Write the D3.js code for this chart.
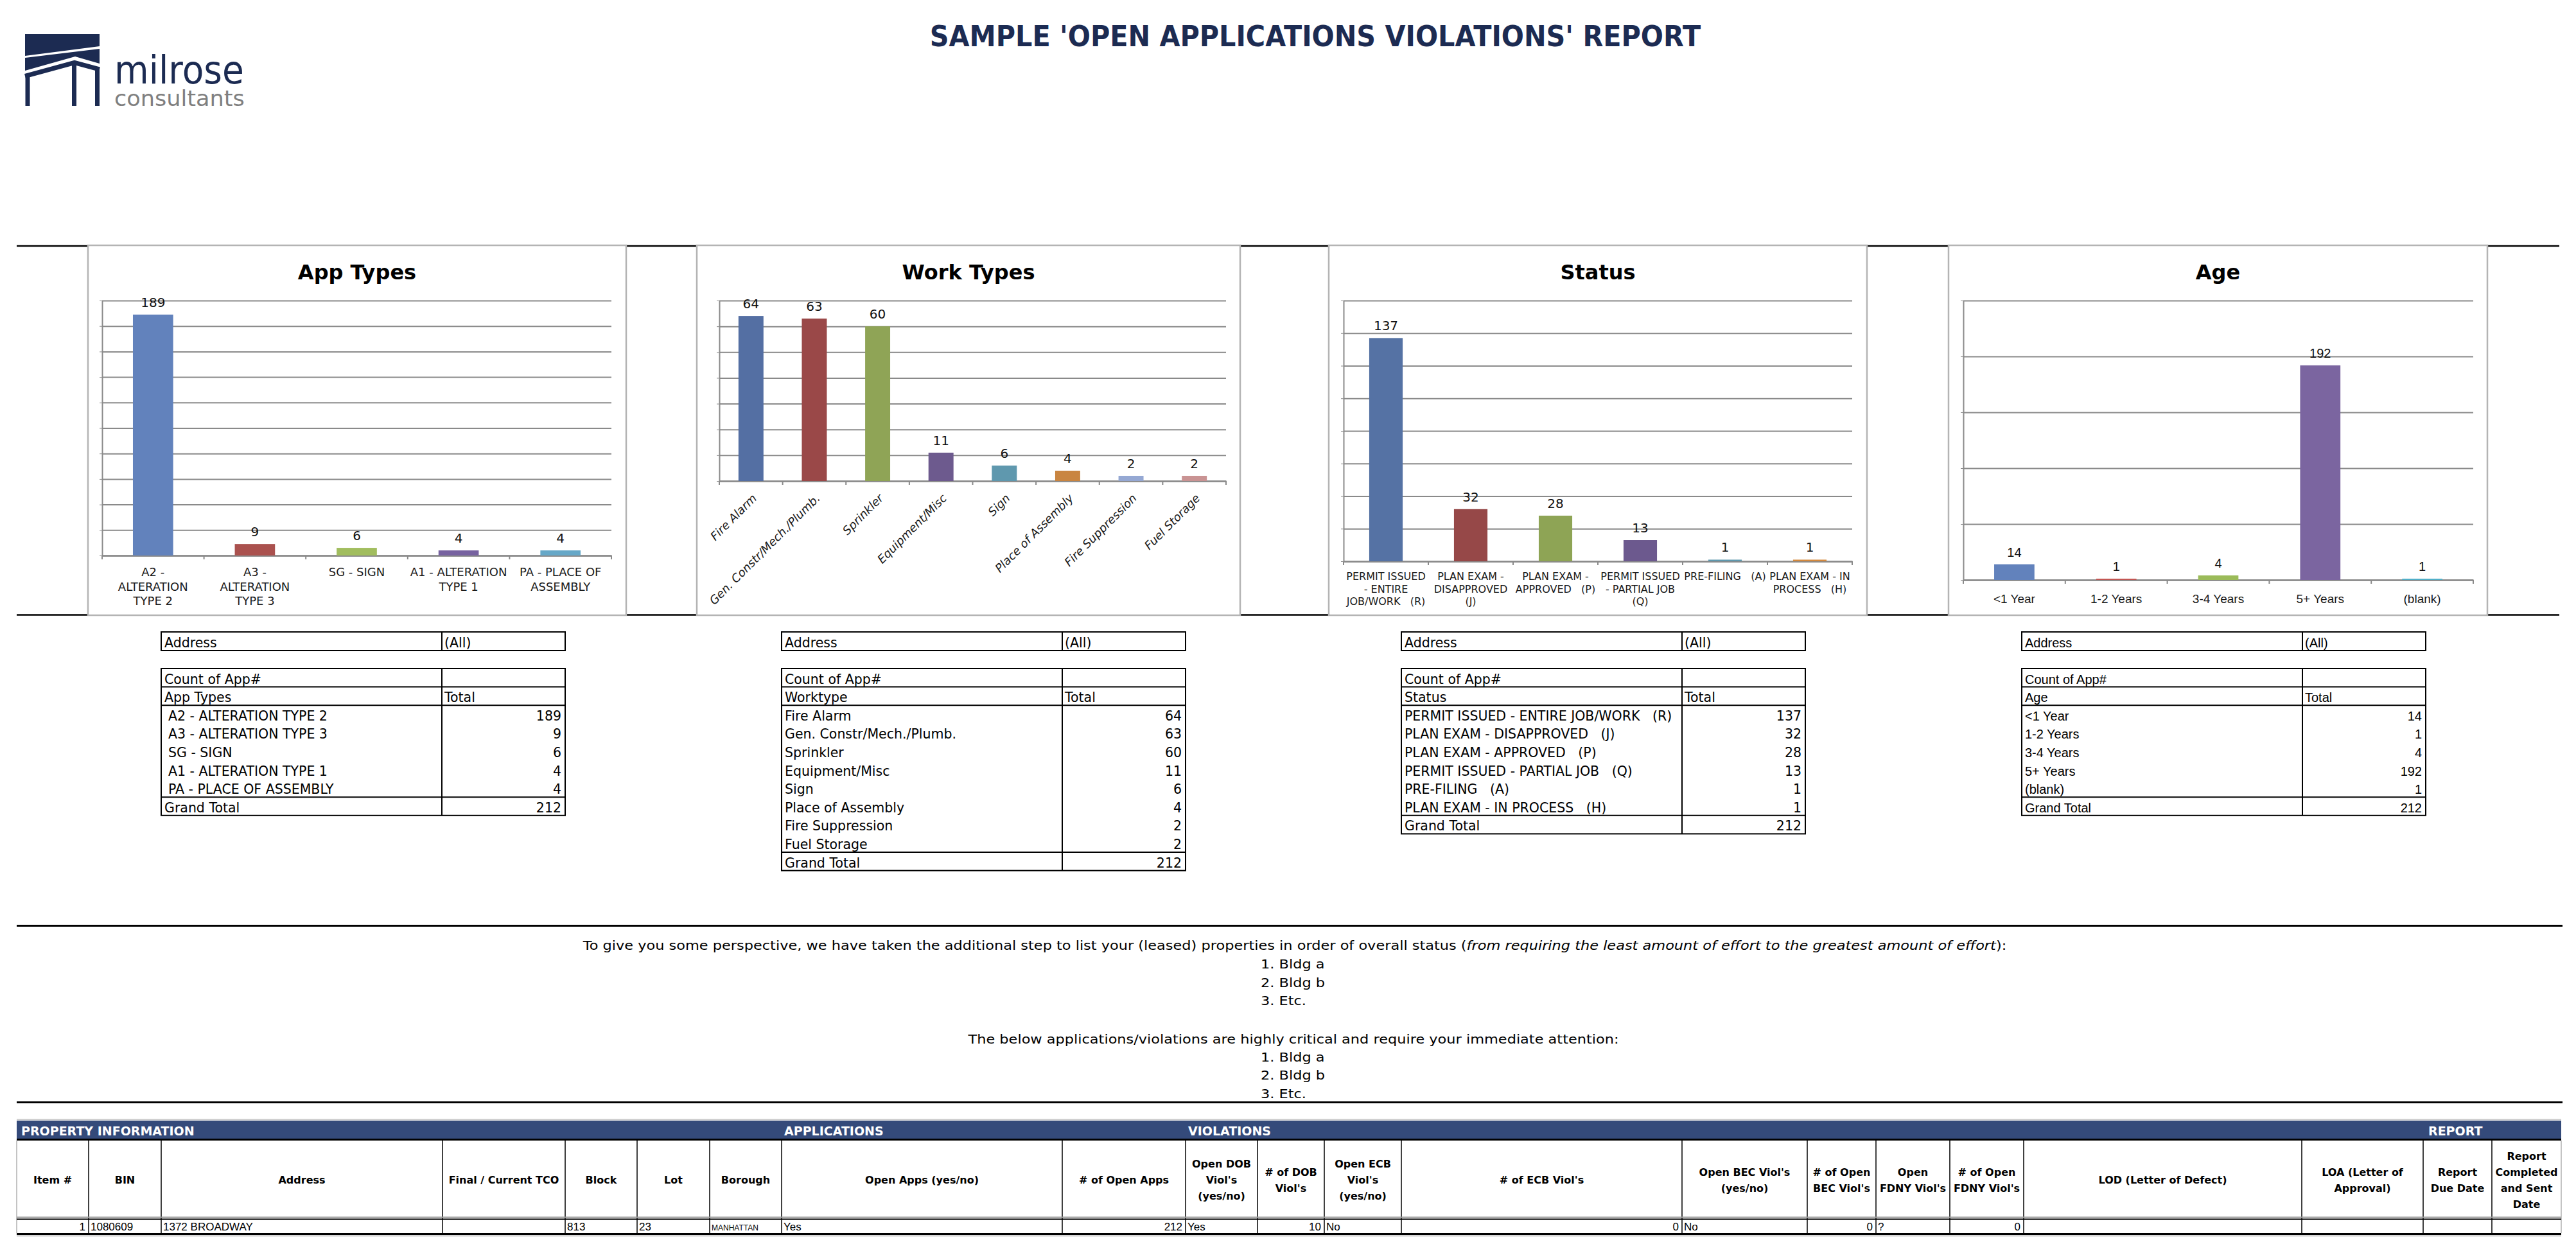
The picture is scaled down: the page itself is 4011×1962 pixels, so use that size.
<!DOCTYPE html>
<html><head><meta charset="utf-8">
<script src="https://cdn.jsdelivr.net/npm/d3@7"></script>
<style>
html,body{margin:0;padding:0;background:#fff;}
svg text{white-space:pre;}
</style></head><body>
<svg id="c" width="4011" height="1962"></svg>
<script>
// ================= DATA =================
const reportTitle = "SAMPLE 'OPEN APPLICATIONS VIOLATIONS' REPORT";

const appTypes = ["A2 - ALTERATION TYPE 2","A3 - ALTERATION TYPE 3","SG - SIGN","A1 - ALTERATION TYPE 1","PA - PLACE OF ASSEMBLY"];
const appCounts = [189, 9, 6, 4, 4];
const appAxisLabels = [["A2 -","ALTERATION","TYPE 2"],["A3 -","ALTERATION","TYPE 3"],["SG - SIGN"],["A1 - ALTERATION","TYPE 1"],["PA - PLACE OF","ASSEMBLY"]];
const appTicks = [0,20,40,60,80,100,120,140,160,180,200];

const workTypes = ["Fire Alarm","Gen. Constr/Mech./Plumb.","Sprinkler","Equipment/Misc","Sign","Place of Assembly","Fire Suppression","Fuel Storage"];
const workCounts = [64, 63, 60, 11, 6, 4, 2, 2];
const workTicks = [0,10,20,30,40,50,60,70];

const statusTypes = ["PERMIT ISSUED - ENTIRE JOB/WORK   (R)","PLAN EXAM - DISAPPROVED   (J)","PLAN EXAM - APPROVED   (P)","PERMIT ISSUED - PARTIAL JOB   (Q)","PRE-FILING   (A)","PLAN EXAM - IN PROCESS   (H)"];
const statusCounts = [137, 32, 28, 13, 1, 1];
const statusAxisLabels = [["PERMIT ISSUED","- ENTIRE","JOB/WORK   (R)"],["PLAN EXAM -","DISAPPROVED","(J)"],["PLAN EXAM -","APPROVED   (P)"],["PERMIT ISSUED","- PARTIAL JOB","(Q)"],["PRE-FILING   (A)"],["PLAN EXAM - IN","PROCESS   (H)"]];
const statusTicks = [0,20,40,60,80,100,120,140,160];

const ageGroups = ["<1 Year","1-2 Years","3-4 Years","5+ Years","(blank)"];
const ageCounts = [14, 1, 4, 192, 1];
const ageTicks = [0,50,100,150,200,250];

const para1 = ["To give you some perspective, we have taken the additional step to list your (leased) properties in order of overall status (",
               "from requiring the least amount of effort to the greatest amount of effort", "):"];
const para1List = ["1. Bldg a","2. Bldg b","3. Etc."];
const para2 = "The below applications/violations are highly critical and require your immediate attention:";
const para2List = ["1. Bldg a","2. Bldg b","3. Etc."];

const bandLabels = ["PROPERTY INFORMATION","APPLICATIONS","VIOLATIONS","REPORT"];
const tableHeaders = [["Item #"],["BIN"],["Address"],["Final / Current TCO"],["Block"],["Lot"],["Borough"],
  ["Open Apps (yes/no)"],["# of Open Apps"],["Open DOB","Viol's","(yes/no)"],["# of DOB","Viol's"],
  ["Open ECB","Viol's","(yes/no)"],["# of ECB Viol's"],["Open BEC Viol's","(yes/no)"],["# of Open","BEC Viol's"],
  ["Open","FDNY Viol's"],["# of Open","FDNY Viol's"],["LOD (Letter of Defect)"],["LOA (Letter of","Approval)"],
  ["Report","Due Date"],["Report","Completed","and Sent","Date"]];
const firstRow = ["1","1080609","1372 BROADWAY","","813","23","MANHATTAN","Yes","212","Yes","10","No","0","No","0","?","0","","","",""];

// ================= STYLE / LAYOUT =================
const NAVY = "#1c2b52";
const SANS = "'DejaVu Sans', 'Noto Sans', sans-serif";
const ARIAL = "'Liberation Sans', Arial, sans-serif";
const GRID = "#8a8a8a";
const svg = d3.select("#c");
svg.append("rect").attr("width",4011).attr("height",1962).attr("fill","#fff");

function stretchTo(sel, x, y, target) {
  const w = sel.node().getComputedTextLength();
  const s = target / w;
  sel.attr("x",0).attr("y",0).attr("transform",`translate(${x},${y}) scale(${s},1)`);
  return s;
}

// ---- logo ----
const logo = svg.append("g").attr("fill",NAVY);
logo.append("polygon").attr("points","39,53 155,53 155,72 39,87");
logo.append("polygon").attr("points","39,90 155,76 155,99 117,88 39,110");
logo.append("polyline").attr("points","39,118.5 116,97.5 155,108").attr("fill","none")
  .attr("stroke",NAVY).attr("stroke-width",7);
[[43,117],[115.5,98],[151.5,106]].forEach(([lx,ly]) =>
  logo.append("line").attr("x1",lx).attr("x2",lx).attr("y1",ly).attr("y2",165).attr("stroke",NAVY).attr("stroke-width",7));
const t1 = svg.append("text").attr("font-family",SANS).attr("font-size",60).attr("fill",NAVY).text("milrose");
stretchTo(t1, 178, 130, 202);
const t2 = svg.append("text").attr("font-family",SANS).attr("font-size",33).attr("fill","#7f7f7f").text("consultants");
stretchTo(t2, 178, 165, 203);

// ---- title ----
const title = svg.append("text").attr("font-family",SANS).attr("font-weight","bold").attr("font-size",44)
  .attr("fill",NAVY).attr("text-anchor","middle").text(reportTitle);
stretchTo(title, 2048, 72, 1201);

// ---- section lines ----
function hline(y, x0, x1, w, col) {
  svg.append("line").attr("x1",x0).attr("x2",x1).attr("y1",y).attr("y2",y).attr("stroke",col||"#000").attr("stroke-width",w);
}
hline(383, 26, 3985, 2.5);
hline(957.5, 26, 3985, 2.5);

// ---- charts ----
const charts = [
  {title:"App Types", cats:appTypes, values:appCounts, ticks:appTicks, labels:appAxisLabels,
   box:[137,975], l:159, r:952, t:468, b:865, font:SANS, fs:18, labDy:32, lineH:22.5,
   colors:["#6282bc","#aa514e","#a1bd5e","#7762a0","#66a8c8"]},
  {title:"Work Types", cats:workTypes, values:workCounts, ticks:workTicks, rotate:true,
   box:[1085,1931], l:1120, r:1909, t:468, b:749, font:SANS, fs:18,
   colors:["#546fa3","#9a4848","#8fa456","#6d5a8e","#5f98ae","#c98541","#95a8d3","#c99393"]},
  {title:"Status", cats:statusTypes, values:statusCounts, ticks:statusTicks, labels:statusAxisLabels,
   box:[2069,2907], l:2092, r:2884, t:468, b:874, font:SANS, fs:16, labDy:29, lineH:19.5,
   colors:["#5572a4","#964848","#8ea455","#6c598e","#5f98ae","#d4893e"]},
  {title:"Age", cats:ageGroups, values:ageCounts, ticks:ageTicks, labels:ageGroups.map(d=>[d]),
   box:[3034,3873], l:3057, r:3851, t:468, b:903, font:ARIAL, fs:19, labDy:36, lineH:22,
   colors:["#6282bc","#c0504d","#9bbb59","#7b65a0","#4bacc6"]}
];

charts.forEach(c => {
  const g = svg.append("g");
  g.append("rect").attr("x",c.box[0]).attr("y",382).attr("width",c.box[1]-c.box[0]).attr("height",576)
    .attr("fill","#fff").attr("stroke","#b4b4b4").attr("stroke-width",2.5);
  g.append("text").attr("x",(c.box[0]+c.box[1])/2).attr("y",435).attr("text-anchor","middle")
    .attr("font-family",SANS).attr("font-weight","bold").attr("font-size",32).attr("fill","#000").text(c.title);

  const slot = d3.scaleBand().domain(c.cats).range([c.l,c.r]);
  const x = d3.scaleBand().domain(c.cats).range([c.l,c.r]).paddingInner(0.605).paddingOuter(0.3025);
  const y = d3.scaleLinear().domain([0, d3.max(c.ticks)]).range([c.b, c.t]);

  const grid = g.append("g").attr("transform",`translate(${c.l},0)`)
    .call(d3.axisLeft(y).tickValues(c.ticks).tickSize(-(c.r-c.l)).tickFormat(""));
  grid.select(".domain").remove();
  grid.selectAll(".tick line").attr("stroke",GRID).attr("stroke-width",2);

  const yax = g.append("g").attr("transform",`translate(${c.l},0)`)
    .call(d3.axisLeft(y).tickValues(c.ticks).tickSize(4).tickSizeOuter(0).tickFormat(""));
  yax.select(".domain").attr("stroke",GRID).attr("stroke-width",2);
  yax.selectAll(".tick line").attr("stroke",GRID).attr("stroke-width",1);

  const xax = g.append("g").attr("transform",`translate(0,${c.b})`)
    .call(d3.axisBottom(slot).tickSize(0).tickSizeOuter(0).tickFormat(""));
  xax.select(".domain").attr("stroke",GRID).attr("stroke-width",2.5);
  const bounds = c.cats.map(d => slot(d)).concat([c.r]);
  g.selectAll(null).data(bounds).join("line")
    .attr("x1",d=>d).attr("x2",d=>d).attr("y1",c.b).attr("y2",c.b+6)
    .attr("stroke",GRID).attr("stroke-width",2);

  const rows = c.cats.map((d,i)=>({cat:d, v:c.values[i], col:c.colors[i], lab:c.labels ? c.labels[i] : [d]}));
  g.selectAll(null).data(rows).join("rect")
    .attr("x",d=>x(d.cat)).attr("y",d=>y(d.v)).attr("width",x.bandwidth())
    .attr("height",d=>c.b - y(d.v)).attr("fill",d=>d.col);
  g.selectAll(null).data(rows).join("text")
    .attr("x",d=>x(d.cat)+x.bandwidth()/2).attr("y",d=>y(d.v)-12)
    .attr("text-anchor","middle").attr("font-family",c.font).attr("font-size",20).attr("fill","#111")
    .text(d=>d.v);

  if (c.rotate) {
    g.selectAll(null).data(rows).join("text")
      .attr("transform",d=>`translate(${slot(d.cat)+slot.bandwidth()/2+10},${c.b+28}) rotate(-45)`)
      .attr("text-anchor","end").attr("font-family",c.font).attr("font-style","italic")
      .attr("font-size",c.fs).attr("fill","#1a1a1a").text(d=>d.cat);
  } else {
    const lt = g.selectAll(null).data(rows).join("text")
      .attr("text-anchor","middle").attr("font-family",c.font).attr("font-size",c.fs).attr("fill","#1a1a1a")
      .attr("y",c.b+c.labDy);
    lt.selectAll("tspan").data(d=>d.lab.map(s=>({s, cx:slot(d.cat)+slot.bandwidth()/2}))).join("tspan")
      .attr("x",d=>d.cx).attr("dy",(d,i)=>i===0?0:c.lineH).text(d=>d.s);
  }
});

// ---- pivot tables ----
const tables = [
  {head:"App Types", cats:appTypes, values:appCounts, x0:251, xd:688, x1:880, font:SANS, fs:20.5, indent:6},
  {head:"Worktype", cats:workTypes, values:workCounts, x0:1217, xd:1654, x1:1846, font:SANS, fs:20.5, indent:0},
  {head:"Status", cats:statusTypes, values:statusCounts, x0:2182, xd:2619, x1:2811, font:SANS, fs:20.5, indent:0},
  {head:"Age", cats:ageGroups, values:ageCounts, x0:3148, xd:3585, x1:3777, font:ARIAL, fs:20, indent:0}
];
tables.forEach(t => {
  const g = svg.append("g").attr("font-family",t.font).attr("font-size",t.fs).attr("fill","#000");
  const line = (x1,y1,x2,y2,w) => g.append("line").attr("x1",x1).attr("y1",y1).attr("x2",x2).attr("y2",y2)
      .attr("stroke","#000").attr("stroke-width",w||2);
  g.append("rect").attr("x",t.x0).attr("y",984).attr("width",t.x1-t.x0).attr("height",29)
    .attr("fill","none").attr("stroke","#000").attr("stroke-width",2);
  line(t.xd,984,t.xd,1013);
  g.append("text").attr("x",t.x0+5).attr("y",1008).text("Address");
  g.append("text").attr("x",t.xd+4).attr("y",1008).text("(All)");

  const top = 1041, rh = 28.6, n = t.cats.length;
  const bottom = top + rh*(n+3);
  g.append("rect").attr("x",t.x0).attr("y",top).attr("width",t.x1-t.x0).attr("height",bottom-top)
    .attr("fill","none").attr("stroke","#000").attr("stroke-width",2);
  line(t.xd,top,t.xd,bottom);
  line(t.x0,top+rh,t.x1,top+rh);
  line(t.x0,top+2*rh,t.x1,top+2*rh);
  line(t.x0,top+rh*(n+2),t.x1,top+rh*(n+2));
  const base = i => top + rh*(i+1) - 5;
  g.append("text").attr("x",t.x0+5).attr("y",base(0)).text("Count of App#");
  g.append("text").attr("x",t.x0+5).attr("y",base(1)).text(t.head);
  g.append("text").attr("x",t.xd+4).attr("y",base(1)).text("Total");
  t.cats.forEach((d,i) => {
    g.append("text").attr("x",t.x0+5+t.indent).attr("y",base(i+2)).text(d);
    g.append("text").attr("x",t.x1-6).attr("y",base(i+2)).attr("text-anchor","end").text(t.values[i]);
  });
  g.append("text").attr("x",t.x0+5).attr("y",base(n+2)).text("Grand Total");
  g.append("text").attr("x",t.x1-6).attr("y",base(n+2)).attr("text-anchor","end").text(d3.sum(t.values));
});

// ---- paragraph section ----
hline(1441.5, 26, 3990, 3);
hline(1716.5, 26, 3990, 3);
const p1 = svg.append("text").attr("font-family",SANS).attr("font-size",20).attr("fill","#000").attr("text-anchor","middle");
p1.append("tspan").text(para1[0]);
p1.append("tspan").attr("font-style","italic").text(para1[1]);
p1.append("tspan").text(para1[2]);
const ps = stretchTo(p1, 2016, 1479, 2217);
const listLine = (s, y) => svg.append("text").attr("font-family",SANS).attr("font-size",20).attr("fill","#000")
  .attr("transform",`translate(1963,${y}) scale(${ps},1)`).text(s);
para1List.forEach((s,i) => listLine(s, 1508 + i*28.7));
svg.append("text").attr("font-family",SANS).attr("font-size",20).attr("fill","#000").attr("text-anchor","middle")
  .attr("transform",`translate(2014,1625) scale(${ps},1)`).text(para2);
para2List.forEach((s,i) => listLine(s, 1653 + i*28.3));

// ---- bottom property table ----
const colX = [26,138,251,689,880,992,1105,1217,1654,1846,1958,2062,2182,2619,2814,2921,3036,3151,3584,3773,3880,3988];
const bandX = [33,1221,1850,3781];
svg.append("line").attr("x1",26).attr("x2",3988).attr("y1",1743.5).attr("y2",1743.5).attr("stroke","#c8c8c8").attr("stroke-width",2);
svg.append("rect").attr("x",26).attr("y",1745).attr("width",3988-26).attr("height",28).attr("fill","#344a7a");
bandLabels.forEach((s,i) => svg.append("text").attr("x",bandX[i]).attr("y",1768)
  .attr("font-family",SANS).attr("font-weight","bold").attr("font-size",19).attr("fill","#fff").text(s));
hline(1774.5, 26, 3988, 3);
colX.forEach((cx,i) => {
  const edge = (i===0 || i===colX.length-1);
  svg.append("line").attr("x1",cx).attr("x2",cx).attr("y1",1776).attr("y2",1920)
    .attr("stroke",edge?"#b0b0b0":"#000").attr("stroke-width",1.5);
});
hline(1895.5, 26, 3988, 2, "#9a9a9a");
hline(1898.5, 26, 3988, 2);
hline(1921.5, 26, 3988, 3);
hline(1924.5, 26, 3988, 1.5, "#b0b0b0");

const rightAligned = [0,8,10,12,14,16];
tableHeaders.forEach((lines,i) => {
  const cx = (colX[i]+colX[i+1])/2;
  const tx = svg.append("text").attr("font-family",SANS).attr("font-weight","bold").attr("font-size",16)
    .attr("fill","#000").attr("text-anchor","middle");
  lines.forEach((s,k) => tx.append("tspan").attr("x",cx).attr("y",1843 - (lines.length-1)*12.5 + k*25).text(s));
  const v = firstRow[i];
  if (v !== "") {
    const ra = rightAligned.includes(i);
    svg.append("text").attr("font-family",ARIAL).attr("font-size", i===6 ? 12 : 17).attr("fill","#000")
      .attr("x", ra ? colX[i+1]-5 : colX[i]+3).attr("y",1916)
      .attr("text-anchor", ra ? "end" : "start").text(v);
  }
});
</script>
</body></html>
